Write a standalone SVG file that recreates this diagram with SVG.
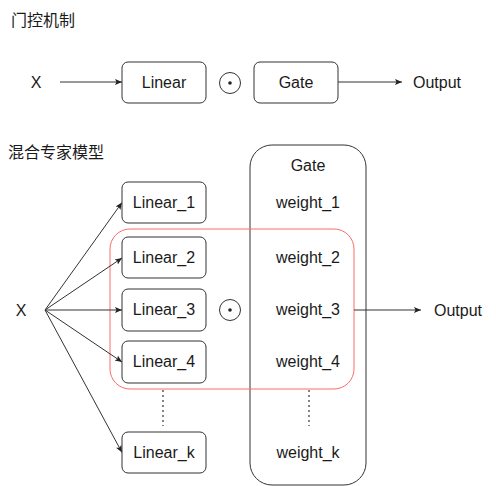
<svg xmlns="http://www.w3.org/2000/svg" width="496" height="486" viewBox="0 0 496 486">
<style>
text{font-family:"Liberation Sans",Arial,"Noto Sans CJK SC",sans-serif;font-size:16px;fill:#1a1a1a}
.t{text-anchor:middle}
.box{fill:#fff;stroke:#333;stroke-width:1}
.conn{stroke:#333;stroke-width:1;fill:none}
.dot{fill:none;stroke:#333;stroke-width:1}
.dash{stroke:#333;stroke-width:1.2;stroke-dasharray:2 3;fill:none}
</style>
<defs>
<marker id="ah" markerWidth="8" markerHeight="8" refX="7" refY="4" orient="auto" markerUnits="userSpaceOnUse">
<path d="M0,1 L7,4 L0,7 L1.5,4 Z" fill="#222"/>
</marker>
</defs>
<rect width="496" height="486" fill="#fff"/>
<text x="11" y="26">门控机制</text>
<text x="8" y="158">混合专家模型</text>

<g id="moe-gate">
<rect x="250" y="145" width="116" height="340" rx="22" class="box"/>
<text class="t" x="308" y="171">Gate</text>
<text class="t" x="308" y="208">weight_1</text>
<text class="t" x="308" y="263">weight_2</text>
<text class="t" x="308" y="315">weight_3</text>
<text class="t" x="308" y="367">weight_4</text>
<text class="t" x="308" y="458">weight_k</text>
</g>
<g id="red-group">
<rect x="110" y="229" width="244" height="160" rx="20" fill="none" stroke="#ff6b6b" stroke-width="1"/>
</g>

<g id="connectors">
<line x1="60" y1="82" x2="122" y2="82" class="conn" marker-end="url(#ah)"/>
<line x1="338" y1="82" x2="402" y2="82" class="conn" marker-end="url(#ah)"/>
<line x1="45" y1="310" x2="122" y2="202.5" class="conn" marker-end="url(#ah)"/>
<line x1="45" y1="310" x2="122" y2="258" class="conn" marker-end="url(#ah)"/>
<line x1="45" y1="310" x2="122" y2="310" class="conn" marker-end="url(#ah)"/>
<line x1="45" y1="310" x2="122" y2="362" class="conn" marker-end="url(#ah)"/>
<line x1="45" y1="310" x2="122" y2="452.5" class="conn" marker-end="url(#ah)"/>
<line x1="354" y1="310" x2="421" y2="310" class="conn" marker-end="url(#ah)"/>
<line x1="163" y1="390" x2="163" y2="426" class="dash"/>
<line x1="309" y1="390" x2="309" y2="426" class="dash"/>
</g>

<g id="x-top"><text class="t" x="36" y="88">X</text></g>
<g id="linear-top"><rect x="122" y="62" width="84" height="41" rx="6" class="box"/><text class="t" x="164" y="88">Linear</text></g>
<g id="odot-top"><circle cx="230" cy="83" r="10.5" class="dot"/><circle cx="230" cy="83" r="1.8" fill="#222"/></g>
<g id="gate-top"><rect x="254" y="62" width="84" height="41" rx="6" class="box"/><text class="t" x="296" y="88">Gate</text></g>
<g id="output-top"><text x="413" y="88">Output</text></g>

<g id="x-bottom"><text class="t" x="21" y="316">X</text></g>
<g id="linear1"><rect x="122" y="182" width="84" height="41" rx="6" class="box"/><text class="t" x="164" y="208">Linear_1</text></g>
<g id="linear2"><rect x="122" y="237" width="84" height="41" rx="6" class="box"/><text class="t" x="164" y="263">Linear_2</text></g>
<g id="linear3"><rect x="122" y="289" width="84" height="42" rx="6" class="box"/><text class="t" x="164" y="315">Linear_3</text></g>
<g id="linear4"><rect x="122" y="341" width="84" height="42" rx="6" class="box"/><text class="t" x="164" y="367">Linear_4</text></g>
<g id="lineark"><rect x="122" y="432" width="84" height="41" rx="6" class="box"/><text class="t" x="164" y="458">Linear_k</text></g>
<g id="odot-bottom"><circle cx="230" cy="310" r="10.5" class="dot"/><circle cx="230" cy="310" r="1.8" fill="#222"/></g>
<g id="output-bottom"><text x="434" y="316">Output</text></g>
</svg>
